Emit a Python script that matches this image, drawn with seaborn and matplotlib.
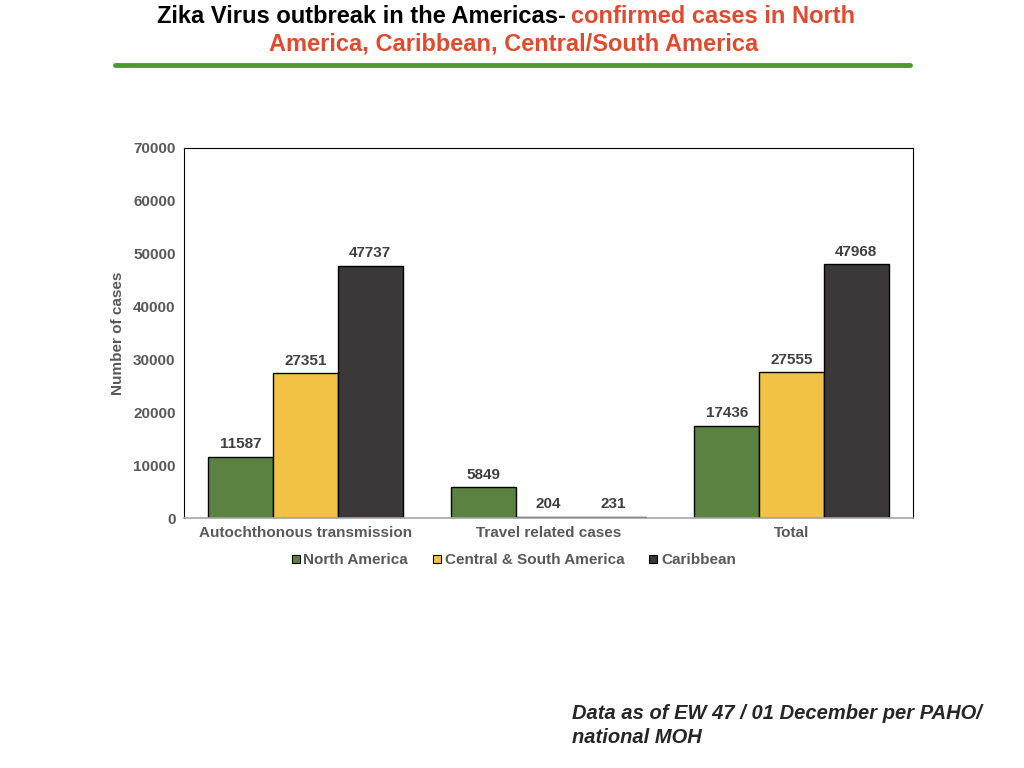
import matplotlib
matplotlib.use("Agg")
import matplotlib.pyplot as plt
import seaborn as sns
import pandas as pd
from matplotlib.lines import Line2D
from matplotlib.transforms import offset_copy

categories = ["Autochthonous transmission", "Travel related cases", "Total"]
regions = ["North America", "Central & South America", "Caribbean"]
north_america = [11587, 5849, 17436]
central_south = [27351, 204, 27555]
caribbean = [47737, 231, 47968]
colors = ["#5b8240", "#f2c244", "#3a3839"]

rows = []
for reg, vals in zip(regions, [north_america, central_south, caribbean]):
    for cat, v in zip(categories, vals):
        rows.append({"category": cat, "region": reg, "cases": v})
df = pd.DataFrame(rows)

sns.set_style("white")
plt.rcParams["font.family"] = ["Liberation Sans", "DejaVu Sans"]

fig = plt.figure(figsize=(10.24, 7.68), dpi=100)
ax = fig.add_axes([0.1797, 0.3255, 0.7119, 0.4818])

sns.barplot(data=df, x="category", y="cases", hue="region", palette=colors,
            order=categories, hue_order=regions, edgecolor="black", linewidth=1,
            saturation=1, ax=ax, legend=False)

for cont in ax.containers:
    ax.bar_label(cont, padding=4, fontsize=11, fontweight="bold", color="#404040")

ax.set_ylim(0, 70000)
ax.set_yticks(range(0, 70001, 10000))
ax.set_xlim(-0.5, 2.5)
ax.set_xlabel("")
ax.set_ylabel("Number of cases", fontsize=11, fontweight="bold", color="#595959", labelpad=6)
ax.tick_params(axis="both", length=0, labelsize=11, labelcolor="#595959", pad=6)
for lab in ax.get_xticklabels() + ax.get_yticklabels():
    lab.set_fontweight("bold")
for side in ["top", "right", "left"]:
    ax.spines[side].set_color("black")
    ax.spines[side].set_linewidth(0.8)
ax.spines["bottom"].set_color("#a6a6a6")
ax.spines["bottom"].set_linewidth(1.2)

handles = [Line2D([0], [0], marker="s", linestyle="", markersize=6,
                  markerfacecolor=c, markeredgecolor="black", markeredgewidth=0.8)
           for c in colors]
leg = fig.legend(handles, regions, loc="center", bbox_to_anchor=(0.5, 0.271), ncol=3,
                 frameon=False, handletextpad=0.0, columnspacing=1.4, handlelength=1.0,
                 prop={"size": 11, "weight": "bold"})
for t in leg.get_texts():
    t.set_color("#595959")

# title in two colours
black_part = fig.text(0.153, 0.979, "Zika Virus outbreak in the Americas-", fontsize=17,
                      fontweight="bold", color="black", ha="left", va="center")
fig.canvas.draw()
bb = black_part.get_window_extent()
fig.text(bb.x1 + 5, bb.y0 + bb.height / 2, "confirmed cases in North", fontsize=17,
         fontweight="bold", color="#e04a2f", ha="left", va="center", transform=None)
fig.text(0.502, 0.943, "America, Caribbean, Central/South America", fontsize=17,
         fontweight="bold", color="#e04a2f", ha="center", va="center")
fig.add_artist(Line2D([0.112, 0.889], [0.916, 0.916], color="#4c9a2a", linewidth=3.5))

fig.text(0.559, 0.071, "Data as of EW 47 / 01 December per PAHO/", fontsize=14.5,
         fontweight="bold", fontstyle="italic", ha="left", va="center")
fig.text(0.559, 0.040, "national MOH", fontsize=14.5, fontweight="bold",
         fontstyle="italic", ha="left", va="center")

fig.savefig("out.png", dpi=100)
